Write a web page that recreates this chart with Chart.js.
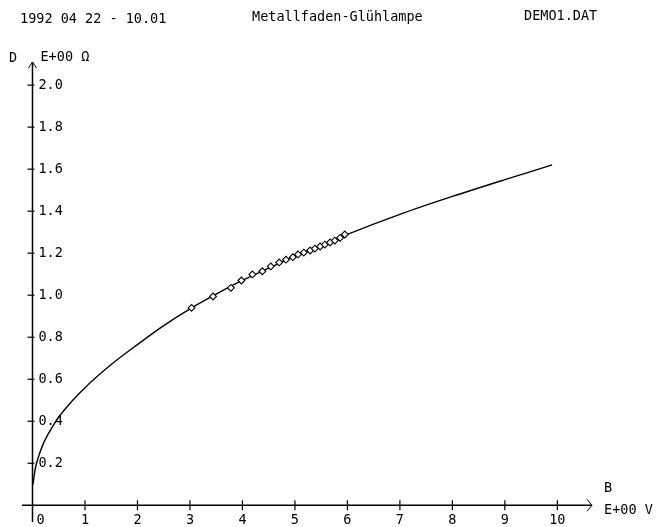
<!DOCTYPE html>
<html>
<head>
<meta charset="utf-8">
<script src="https://cdn.jsdelivr.net/npm/chart.js@4/dist/chart.umd.min.js"></script>
<style>
  html, body { margin: 0; padding: 0; background: #fff; }
  #wrap { width: 656px; height: 527px; }
</style>
</head>
<body>
<div id="wrap"><canvas id="c" width="656" height="527"></canvas></div>
<script>
// ---- data ----
const headerLeft = "1992 04 22 - 10.01";
const headerTitle = "Metallfaden-Glühlampe";
const headerRight = "DEMO1.DAT";
const yAxisName = "D";
const yAxisUnit = "E+00 Ω";
const xAxisName = "B";
const xAxisUnit = "E+00 V";

const xTicks = [0, 1, 2, 3, 4, 5, 6, 7, 8, 9, 10];
const xTickLabels = ["0", "1", "2", "3", "4", "5", "6", "7", "8", "9", "10"];
const yTicks = [0.2, 0.4, 0.6, 0.8, 1.0, 1.2, 1.4, 1.6, 1.8, 2.0];
const yTickLabels = ["0.2", "0.4", "0.6", "0.8", "1.0", "1.2", "1.4", "1.6", "1.8", "2.0"];

// fitted curve (voltage, resistance)
const curveV = [0.01, 0.05, 0.1, 0.2, 0.3, 0.5, 0.75, 1.0, 1.5, 2.0, 2.5, 3.0, 3.5, 4.0, 5.0, 6.0, 7.0, 8.0, 9.0, 9.9];
const curveR = [0.10, 0.17, 0.22, 0.29, 0.34, 0.42, 0.495, 0.56, 0.67, 0.765, 0.855, 0.935, 1.005, 1.07, 1.185, 1.29, 1.385, 1.47, 1.55, 1.62];

// measured points
const measV = [3.03, 3.44, 3.78, 3.98, 4.19, 4.38, 4.54, 4.70, 4.83, 4.96, 5.06, 5.17, 5.29, 5.38, 5.48, 5.57, 5.67, 5.76, 5.86, 5.95];
const measR = [0.940, 0.994, 1.035, 1.070, 1.099, 1.114, 1.137, 1.156, 1.169, 1.181, 1.194, 1.203, 1.213, 1.222, 1.232, 1.241, 1.251, 1.260, 1.273, 1.289];

const FONT = '13.5px "DejaVu Sans Mono", "Liberation Mono", monospace';
const INK = '#000';

const axesPlugin = {
  id: 'plotterAxes',
  beforeDatasetsDraw(chart) {
    const ctx = chart.ctx;
    const xs = chart.scales.x, ys = chart.scales.y;
    const x0 = xs.getPixelForValue(0), y0 = ys.getPixelForValue(0);
    const ca = chart.chartArea;
    ctx.save();
    ctx.strokeStyle = INK;
    ctx.lineWidth = 1.5;
    ctx.beginPath();
    ctx.moveTo(ca.left, y0); ctx.lineTo(ca.right, y0);
    ctx.stroke();
    ctx.lineWidth = 1;
    ctx.beginPath();
    ctx.moveTo(ca.right - 5, y0 - 6); ctx.lineTo(ca.right, y0); ctx.lineTo(ca.right - 5, y0 + 6);
    ctx.stroke();
    ctx.lineWidth = 1.5;
    ctx.beginPath();
    ctx.moveTo(x0, ca.bottom + 2); ctx.lineTo(x0, ca.top);
    ctx.stroke();
    ctx.lineWidth = 1;
    ctx.beginPath();
    ctx.moveTo(x0 - 4, ca.top + 6); ctx.lineTo(x0, ca.top); ctx.lineTo(x0 + 4, ca.top + 6);
    ctx.stroke();
    ctx.lineWidth = 1.2;
    xTicks.forEach(v => {
      if (v === 0) return;
      const px = xs.getPixelForValue(v);
      ctx.beginPath(); ctx.moveTo(px, y0 - 5); ctx.lineTo(px, y0 + 5); ctx.stroke();
    });
    yTicks.forEach(v => {
      const py = ys.getPixelForValue(v);
      ctx.beginPath(); ctx.moveTo(x0 - 5, py); ctx.lineTo(x0 + 2, py); ctx.stroke();
    });
    ctx.fillStyle = INK;
    ctx.font = FONT;
    ctx.textBaseline = 'middle';
    ctx.textAlign = 'left';
    yTicks.forEach((v, i) => {
      ctx.fillText(yTickLabels[i], x0 + 6, ys.getPixelForValue(v));
    });
    ctx.textAlign = 'center';
    xTicks.forEach((v, i) => {
      const px = xs.getPixelForValue(v) + (v === 0 ? 8 : 0);
      ctx.fillText(xTickLabels[i], px, y0 + 15);
    });
    ctx.textAlign = 'left';
    ctx.fillText(yAxisName, 9, ca.top - 4);
    ctx.fillText(yAxisUnit, x0 + 8, ca.top - 5);
    ctx.fillText(xAxisName, ca.right + 12, y0 - 17);
    ctx.fillText(xAxisUnit, ca.right + 12, y0 + 5);
    ctx.fillText(headerLeft, 20, 19);
    ctx.fillText(headerTitle, 252, 17);
    ctx.fillText(headerRight, 524, 16);
    ctx.restore();
  }
};

new Chart(document.getElementById('c'), {
  type: 'scatter',
  data: {
    datasets: [
      {
        label: 'Fit',
        data: curveV.map((v, i) => ({ x: v, y: curveR[i] })),
        showLine: true,
        borderColor: INK,
        borderWidth: 1.4,
        pointRadius: 0,
        cubicInterpolationMode: 'monotone',
        order: 2
      },
      {
        label: 'Messwerte',
        data: measV.map((v, i) => ({ x: v, y: measR[i] })),
        showLine: false,
        pointStyle: 'rectRot',
        pointRadius: 3.4,
        pointBackgroundColor: '#fff',
        pointBorderColor: INK,
        pointBorderWidth: 1.1,
        order: 1
      }
    ]
  },
  options: {
    responsive: false,
    animation: false,
    layout: { padding: { left: 22, right: 64, top: 62, bottom: 7 } },
    plugins: { legend: { display: false }, tooltip: { enabled: false } },
    scales: {
      x: { type: 'linear', display: false, min: -0.2, max: 10.66 },
      y: { type: 'linear', display: false, min: -0.07, max: 2.11 }
    }
  },
  plugins: [axesPlugin]
});
</script>
</body>
</html>
